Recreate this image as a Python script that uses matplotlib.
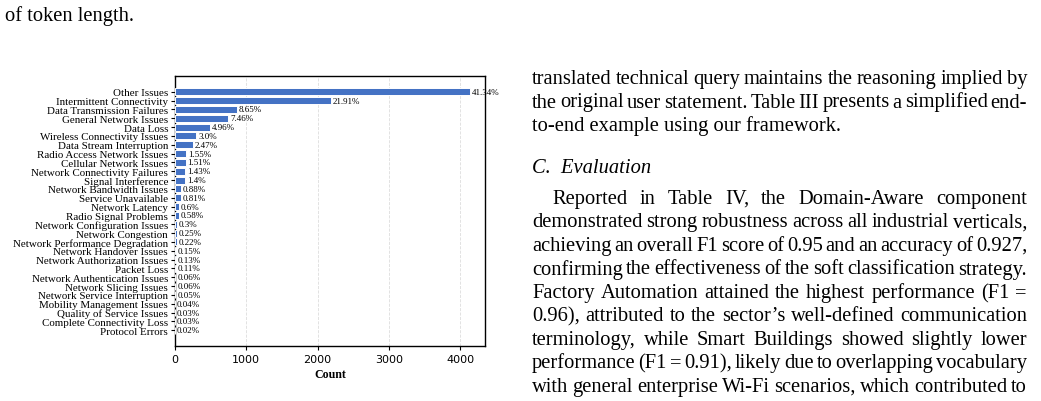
import matplotlib
matplotlib.use("Agg")
import matplotlib.pyplot as plt

# categories and counts (total = 10000)
issues = ['Other Issues', 'Intermittent Connectivity', 'Data Transmission Failures',
          'General Network Issues', 'Data Loss', 'Wireless Connectivity Issues',
          'Data Stream Interruption', 'Radio Access Network Issues', 'Cellular Network Issues',
          'Network Connectivity Failures', 'Signal Interference', 'Network Bandwidth Issues',
          'Service Unavailable', 'Network Latency', 'Radio Signal Problems',
          'Network Configuration Issues', 'Network Congestion', 'Network Performance Degradation',
          'Network Handover Issues', 'Network Authorization Issues', 'Packet Loss',
          'Network Authentication Issues', 'Network Slicing Issues', 'Network Service Interruption',
          'Mobility Management Issues', 'Quality of Service Issues', 'Complete Connectivity Loss',
          'Protocol Errors']
counts = [4134, 2191, 865, 746, 496, 300, 247, 155, 151, 143, 140, 88, 81, 60, 58,
          30, 25, 22, 15, 13, 11, 6, 6, 5, 4, 3, 3, 2]
xticks = [0, 1000, 2000, 3000, 4000]

# surrounding page text
left_text = "of token length."
right_lines = [
    "translated technical query maintains the reasoning implied by",
    "the original user statement. Table III presents a simplified end-",
    "to-end example using our framework.",
]
heading = "C.  Evaluation"
para_lines = [
    "Reported in Table IV, the Domain-Aware component",
    "demonstrated strong robustness across all industrial verticals,",
    "achieving an overall F1 score of 0.95 and an accuracy of 0.927,",
    "confirming the effectiveness of the soft classification strategy.",
    "Factory Automation attained the highest performance (F1 =",
    "0.96), attributed to the sector\u2019s well-defined communication",
    "terminology, while Smart Buildings showed slightly lower",
    "performance (F1 = 0.91), likely due to overlapping vocabulary",
    "with general enterprise Wi-Fi scenarios, which contributed to",
]

W, H = 1041, 402
fig = plt.figure(figsize=(W / 100, H / 100), dpi=100)
serif = 'Liberation Serif'

def px(x, y):
    return x / W, 1 - y / H

# chart
ax = fig.add_axes([175 / W, 1 - 347 / H, (485 - 175) / W, (347 - 77) / H])
total = sum(counts)
ypos = list(range(len(issues)))
ax.barh(ypos, counts, height=0.8, color='#4472C4', edgecolor='white', linewidth=0.7, zorder=3)
ax.invert_yaxis()
ax.set_yticks(ypos)
ax.set_yticklabels(issues, family=serif, fontsize=7.9)
for y, c in zip(ypos, counts):
    ax.text(c + 25, y, f"{round(c / total * 100, 2)}%", family=serif, fontsize=6.5,
            va='center', ha='left')
ax.set_xticks(xticks)
ax.set_xticklabels([str(t) for t in xticks], fontsize=8)
ax.set_xlim(0, 4350)
ax.grid(axis='x', linestyle='--', color='#dddddd', linewidth=0.6, zorder=0)
ax.set_xlabel('Count', family=serif, fontweight='bold', fontsize=8.6, labelpad=3)
ax.tick_params(axis='y', length=3, pad=2, width=0.8)
ax.tick_params(axis='x', length=3, pad=3, width=0.8)
for s in ax.spines.values():
    s.set_linewidth(1.0)

# page text
fs = 14.8
fig.text(*px(5, 21), left_text, family=serif, fontsize=fs, va='baseline')

renderer = fig.canvas.get_renderer()

def justify(line, x0, x1, yb):
    words = line.split(' ')
    objs = [fig.text(0, 0, w, family=serif, fontsize=fs, va='baseline') for w in words]
    widths = [o.get_window_extent(renderer).width for o in objs]
    gap = (x1 - x0 - sum(widths)) / max(len(words) - 1, 1)
    x = x0
    for o, w in zip(objs, widths):
        o.set_position(px(x, yb))
        x += w + gap

L, R = 532, 1027
yb = 84
step = 23.5
justify(right_lines[0], L, R, yb)
justify(right_lines[1], L, R, yb + step)
fig.text(*px(L, yb + 2 * step), right_lines[2], family=serif, fontsize=fs, va='baseline')
fig.text(*px(L, 173), heading, family=serif, style='italic', fontsize=fs, va='baseline')
yb2 = 204
for i, line in enumerate(para_lines):
    x0 = 552 if i == 0 else L
    justify(line, x0, R, yb2 + i * step)

fig.savefig('out.png', dpi=100)
